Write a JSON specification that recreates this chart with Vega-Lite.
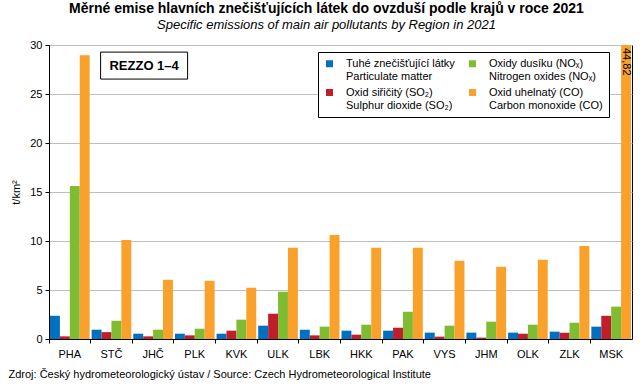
{
"$schema": "https://vega.github.io/schema/vega-lite/v6.json",
"width": 583, "height": 294,
"autosize": {"type": "none"},
"padding": {"left": 49, "top": 45, "right": 11, "bottom": 51},
"background": "white",
"title": {"text": "Měrné emise hlavních znečišťujících látek do ovzduší podle krajů v roce 2021", "subtitle": "Specific emissions of main air pollutants by Region in 2021", "font": "Liberation Sans", "fontSize": 14, "fontWeight": "bold", "color": "black", "subtitleFont": "Liberation Sans", "subtitleFontSize": 13, "subtitleFontStyle": "italic", "subtitleColor": "black", "anchor": "middle", "frame": "group", "dx": -14, "offset": 7, "subtitlePadding": 3},
"config": {"font": "Liberation Sans", "view": {"stroke": "black", "strokeWidth": 1}},
"data": {"values": [
{"region":"PHA","pollutant":"PM","value":2.37},{"region":"PHA","pollutant":"SO2","value":0.27},{"region":"PHA","pollutant":"NOx","value":15.6},{"region":"PHA","pollutant":"CO","value":28.95},
{"region":"STČ","pollutant":"PM","value":0.95},{"region":"STČ","pollutant":"SO2","value":0.7},{"region":"STČ","pollutant":"NOx","value":1.87},{"region":"STČ","pollutant":"CO","value":10.1},
{"region":"JHČ","pollutant":"PM","value":0.54},{"region":"JHČ","pollutant":"SO2","value":0.27},{"region":"JHČ","pollutant":"NOx","value":0.95},{"region":"JHČ","pollutant":"CO","value":6.04},
{"region":"PLK","pollutant":"PM","value":0.54},{"region":"PLK","pollutant":"SO2","value":0.37},{"region":"PLK","pollutant":"NOx","value":1.05},{"region":"PLK","pollutant":"CO","value":5.94},
{"region":"KVK","pollutant":"PM","value":0.54},{"region":"KVK","pollutant":"SO2","value":0.85},{"region":"KVK","pollutant":"NOx","value":1.97},{"region":"KVK","pollutant":"CO","value":5.23},
{"region":"ULK","pollutant":"PM","value":1.36},{"region":"ULK","pollutant":"SO2","value":2.58},{"region":"ULK","pollutant":"NOx","value":4.82},{"region":"ULK","pollutant":"CO","value":9.3},
{"region":"LBK","pollutant":"PM","value":0.95},{"region":"LBK","pollutant":"SO2","value":0.37},{"region":"LBK","pollutant":"NOx","value":1.26},{"region":"LBK","pollutant":"CO","value":10.6},
{"region":"HKK","pollutant":"PM","value":0.85},{"region":"HKK","pollutant":"SO2","value":0.44},{"region":"HKK","pollutant":"NOx","value":1.46},{"region":"HKK","pollutant":"CO","value":9.3},
{"region":"PAK","pollutant":"PM","value":0.85},{"region":"PAK","pollutant":"SO2","value":1.15},{"region":"PAK","pollutant":"NOx","value":2.78},{"region":"PAK","pollutant":"CO","value":9.3},
{"region":"VYS","pollutant":"PM","value":0.65},{"region":"VYS","pollutant":"SO2","value":0.24},{"region":"VYS","pollutant":"NOx","value":1.36},{"region":"VYS","pollutant":"CO","value":7.98},
{"region":"JHM","pollutant":"PM","value":0.65},{"region":"JHM","pollutant":"SO2","value":0.14},{"region":"JHM","pollutant":"NOx","value":1.77},{"region":"JHM","pollutant":"CO","value":7.37},
{"region":"OLK","pollutant":"PM","value":0.65},{"region":"OLK","pollutant":"SO2","value":0.54},{"region":"OLK","pollutant":"NOx","value":1.46},{"region":"OLK","pollutant":"CO","value":8.08},
{"region":"ZLK","pollutant":"PM","value":0.75},{"region":"ZLK","pollutant":"SO2","value":0.65},{"region":"ZLK","pollutant":"NOx","value":1.66},{"region":"ZLK","pollutant":"CO","value":9.5},
{"region":"MSK","pollutant":"PM","value":1.26},{"region":"MSK","pollutant":"SO2","value":2.37},{"region":"MSK","pollutant":"NOx","value":3.3},{"region":"MSK","pollutant":"CO","value":44.82}
]},
"layer": [
{
"mark": {"type": "bar", "clip": true},
"encoding": {
"x": {"field": "region", "type": "nominal", "scale": {"domain": ["PHA","STČ","JHČ","PLK","KVK","ULK","LBK","HKK","PAK","VYS","JHM","OLK","ZLK","MSK"], "paddingInner": 0, "paddingOuter": 0},
 "axis": {"title": "Zdroj: Český hydrometeorologický ústav / Source: Czech Hydrometeorological Institute", "titleAnchor": "start", "titleAlign": "left", "titleX": -41, "titleY": 38, "titleBaseline": "alphabetic", "titleFontSize": 11, "titleFontWeight": "normal", "titleColor": "black", "labelAngle": 0, "labelFontSize": 11, "labelColor": "black", "labelPadding": 5, "bandPosition": 0, "tickSize": 4, "tickColor": "black", "domainColor": "black", "grid": false}},
"xOffset": {"field": "pollutant", "type": "nominal", "sort": ["PM","SO2","NOx","CO"], "scale": {"paddingInner": 0, "paddingOuter": 0.1}},
"y": {"field": "value", "type": "quantitative", "scale": {"domain": [0, 30], "nice": false},
 "axis": {"title": "t/km²", "titleFontSize": 11, "titleFontWeight": "normal", "titleColor": "black", "titlePadding": 8, "values": [0,5,10,15,20,25,30], "labelFontSize": 11, "labelColor": "black", "labelPadding": 3, "tickSize": 4, "tickColor": "black", "domainColor": "black", "gridColor": "#BFBFBF"}},
"color": {"field": "pollutant", "type": "nominal", "scale": {"domain": ["PM","SO2","NOx","CO"], "range": ["#0070C0","#C01E2B","#80BC31","#F9A12B"]},
 "legend": {"values": ["PM","SO2","NOx","CO"], "orient": "none", "legendX": 269, "legendY": 7, "columns": 2, "title": null, "strokeColor": "black", "fillColor": "white", "padding": 6, "symbolType": "square", "symbolSize": 49, "symbolStrokeWidth": 0, "labelFontSize": 11, "labelColor": "black", "labelLimit": 300, "labelOffset": 11, "rowPadding": 4, "columnPadding": 12,
  "labelExpr": "datum.label == 'PM' ? ['Tuhé znečišťující látky', 'Particulate matter'] : datum.label == 'SO2' ? ['Oxid siřičitý (SO₂)', 'Sulphur dioxide (SO₂)'] : datum.label == 'NOx' ? ['Oxidy dusíku (NOₓ)', 'Nitrogen oxides (NOₓ)'] : ['Oxid uhelnatý (CO)', 'Carbon monoxide (CO)']"}}
}
},
{
"transform": [{"filter": "datum.value > 30"}, {"calculate": "replace(format(datum.value, '.2f'), '.', ',')", "as": "label"}],
"mark": {"type": "text", "angle": 90, "align": "left", "baseline": "middle", "dx": 3, "fontSize": 11, "color": "black"},
"encoding": {
"x": {"field": "region", "type": "nominal"},
"xOffset": {"field": "pollutant", "type": "nominal", "sort": ["PM","SO2","NOx","CO"]},
"y": {"datum": 30, "type": "quantitative"},
"text": {"field": "label", "type": "nominal"}
}
},
{
"data": {"values": [{"label": "REZZO 1–4"}]},
"mark": {"type": "point", "shape": "M-1,-0.31L1,-0.31L1,0.31L-1,0.31Z", "size": 7569, "filled": true, "fill": "white", "stroke": "black", "strokeWidth": 1, "opacity": 1, "xOffset": -9},
"encoding": {
"x": {"datum": "JHČ", "type": "nominal"},
"y": {"datum": 27.9, "type": "quantitative"}
}
},
{
"data": {"values": [{"label": "REZZO 1–4"}]},
"mark": {"type": "text", "fontSize": 13, "fontWeight": "bold", "color": "black", "dx": -9, "baseline": "middle", "align": "center"},
"encoding": {
"x": {"datum": "JHČ", "type": "nominal"},
"y": {"datum": 27.9, "type": "quantitative"},
"text": {"field": "label", "type": "nominal"}
}
}
]
}
